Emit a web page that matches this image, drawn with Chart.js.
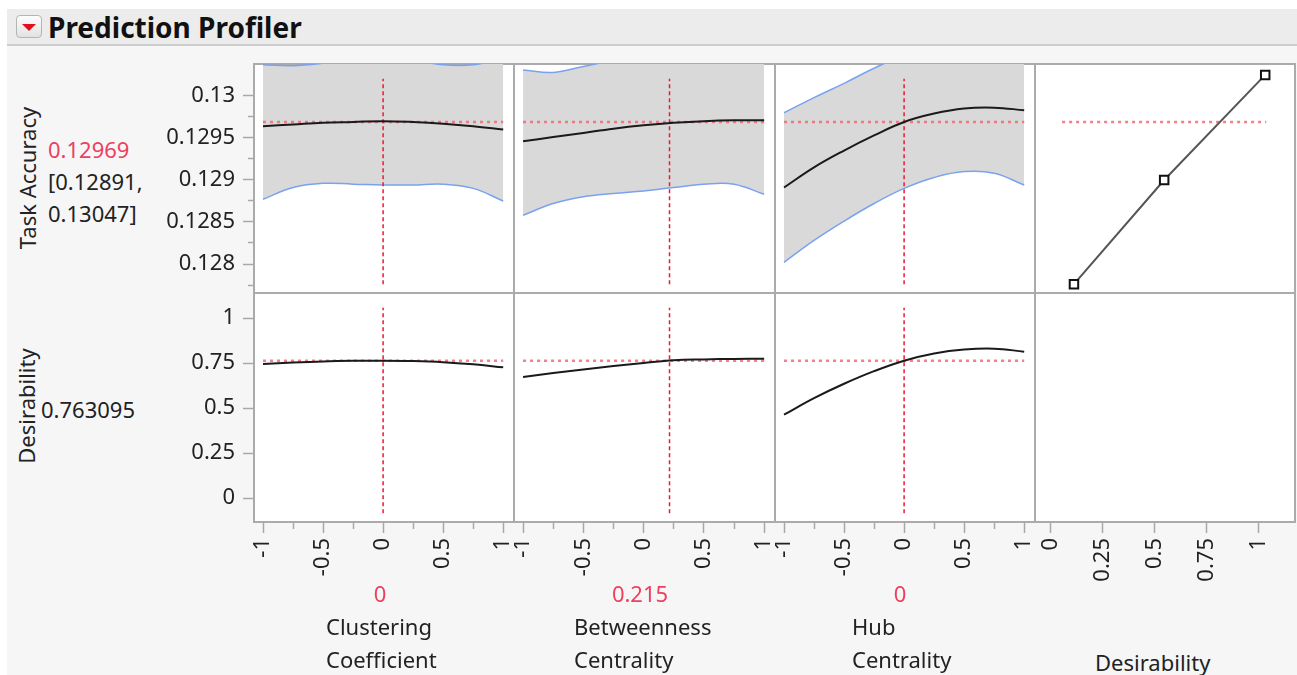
<!DOCTYPE html>
<html>
<head>
<meta charset="utf-8">
<title>Prediction Profiler</title>
<script src="https://cdn.jsdelivr.net/npm/chart.js@4.4.1/dist/chart.umd.min.js"></script>
<style>
  html, body { margin: 0; padding: 0; background: #fff; }
  body { width: 1297px; height: 675px; position: relative; overflow: hidden;
         font-family: "Noto Sans", "Open Sans", sans-serif; color: #222; }
  #report { position: absolute; left: 7px; top: 9px; width: 1290px; height: 666px; background: #f6f6f6; }
  #header { position: absolute; left: 7px; top: 9px; width: 1290px; height: 35px;
            background: #ececec; border-bottom: 2px solid #cdcdcd; }
  #toggle { position: absolute; left: 16px; top: 15px; width: 24px; height: 21px;
            border: 1px solid #b5b5b5; border-radius: 4px; background: linear-gradient(#fdfdfd, #e2e2e2); }
  #toggle:after { content: ''; position: absolute; left: 5px; top: 8px;
                  border-left: 7px solid transparent; border-right: 7px solid transparent; border-top: 7px solid #e2101c; }
  #title { position: absolute; left: 48px; top: 9px; line-height: 36px; font-size: 28px; font-weight: bold; color: #111; }
  .panelbg { position: absolute; background: #fff; }
  .frame { position: absolute; box-sizing: border-box; border: 2px solid #ababab; }
  canvas { position: absolute; }
  .txt { position: absolute; font-size: 22px; line-height: 32px; white-space: nowrap; }
  .red { color: #ef3f5f; }
  .rot { transform: translate(-50%, -50%) rotate(-90deg); line-height: 28px; }
  .mid { transform: translateX(-50%); }
</style>
</head>
<body>
<div id="report"></div>
<div id="header"></div>
<div id="toggle"></div>
<div id="title">Prediction Profiler</div>

<script>
// factor settings where the profile curves are evaluated
const factorLevels = [-1, -0.75, -0.5, -0.25, 0, 0.25, 0.5, 0.75, 1];
const factorNames = ['Clustering Coefficient', 'Betweenness Centrality', 'Hub Centrality'];
const currentSettings = [0, 0.215, 0];

// Task Accuracy profiles with confidence bands
const clusterAccuracy = [0.12964, 0.12966, 0.12968, 0.12969, 0.12970, 0.12969, 0.12967, 0.12964, 0.12960];
const clusterLower    = [0.12877, 0.12891, 0.12896, 0.12895, 0.12894, 0.12894, 0.12895, 0.12890, 0.12875];
const clusterUpper    = [0.13037, 0.13036, 0.13039, 0.13044, 0.13047, 0.13043, 0.13037, 0.13037, 0.13045];

const betweenAccuracy = [0.12946, 0.12951, 0.12956, 0.12961, 0.12965, 0.12968, 0.12970, 0.12971, 0.12971];
const betweenLower    = [0.12858, 0.12872, 0.12880, 0.12884, 0.12887, 0.12891, 0.12895, 0.12895, 0.12883];
const betweenUpper    = [0.13031, 0.13028, 0.13035, 0.13042, 0.13046, 0.13048, 0.13047, 0.13049, 0.13061];

const hubAccuracy = [0.12891, 0.12915, 0.12935, 0.12953, 0.12969, 0.12979, 0.12985, 0.12986, 0.12983];
const hubLower    = [0.12802, 0.12828, 0.12851, 0.12872, 0.12890, 0.12903, 0.12910, 0.12908, 0.12894];
const hubUpper    = [0.12980, 0.12998, 0.13015, 0.13033, 0.13048, 0.13057, 0.13061, 0.13064, 0.13072];

// Desirability profiles
const clusterDesirability = [0.745, 0.753, 0.759, 0.762, 0.763, 0.761, 0.755, 0.743, 0.726];
const betweenDesirability = [0.673, 0.694, 0.714, 0.733, 0.750, 0.765, 0.770, 0.773, 0.774];
const hubDesirability     = [0.463, 0.555, 0.635, 0.705, 0.763, 0.803, 0.825, 0.830, 0.813];

// current prediction
const currentAccuracy = 0.12969;
const accuracyInterval = [0.12891, 0.13047];
const currentDesirability = 0.763095;

// desirability function (desirability -> task accuracy)
const desirFnX = [0.112, 0.545, 1.03];
const desirFnY = [0.12776, 0.129, 0.13025];
const desirCursorSpan = [0.055, 1.035];

// axes
const accuracyRange = [0.127655, 0.13038];
const accuracyMajor = [0.128, 0.1285, 0.129, 0.1295, 0.13];
const accuracyLabels = ['0.128', '0.1285', '0.129', '0.1295', '0.13'];
const accuracyMinor = [0.12775, 0.12825, 0.12875, 0.12925, 0.12975, 0.13025];

const desirRange = [-0.133, 1.139];
const desirMajor = [0, 0.25, 0.5, 0.75, 1];
const desirLabels = ['0', '0.25', '0.5', '0.75', '1'];

const factorRange = [-1.075, 1.09];
const factorMajor = [-1, -0.5, 0, 0.5, 1];
const factorLabels = ['-1', '-0.5', '0', '0.5', '1'];
const factorMinor = [-0.75, -0.25, 0.25, 0.75];

const desirAxisRange = [-0.075, 1.173];

// layout of the grid of panels
const colLeft = [254, 514, 775, 1035, 1295];
const rowTop = [64, 293, 522];
const yAxisWidth = 94, xAxisHeight = 70;

Chart.defaults.font.family = '"Noto Sans", "Open Sans", sans-serif';
Chart.defaults.font.size = 22;
Chart.defaults.color = '#222';
Chart.defaults.animation = false;
Chart.defaults.events = [];
Chart.defaults.plugins.legend.display = false;
Chart.defaults.plugins.tooltip.enabled = false;

function addDiv(cls, l, t, w, h, html) {
    var d = document.createElement('div');
    d.className = cls;
    d.style.left = l + 'px';
    d.style.top = t + 'px';
    if (w != null) d.style.width = w + 'px';
    if (h != null) d.style.height = h + 'px';
    if (html != null) d.innerHTML = html;
    document.body.appendChild(d);
    return d;
}

// white plot area then panel frames, charts go on top
addDiv('panelbg', colLeft[0], rowTop[0], colLeft[4] - colLeft[0], rowTop[2] - rowTop[0]);
for (var r = 0; r < 2; r++) {
    for (var c = 0; c < 4; c++) {
        addDiv('frame', colLeft[c] - 1, rowTop[r] - 1, colLeft[c + 1] - colLeft[c] + 2, rowTop[r + 1] - rowTop[r] + 2);
    }
}

function pts(xs, ys) {
    return xs.map(function(x, i) { return { x: x, y: ys[i] }; });
}

function curve(ys) {
    return { data: pts(factorLevels, ys), borderColor: '#1a1a1a', borderWidth: 2, pointRadius: 0,
             tension: 0.4, fill: false, clip: 0, xAxisID: 'x', yAxisID: 'y' };
}

function bandUpper(ys) {
    return { data: pts(factorLevels, ys), borderColor: '#7aa2ee', borderWidth: 1.5, pointRadius: 0,
             tension: 0.4, fill: false, clip: 0, xAxisID: 'x', yAxisID: 'y' };
}

function bandLower(ys) {
    return { data: pts(factorLevels, ys), borderColor: '#7aa2ee', borderWidth: 1.5, pointRadius: 0,
             tension: 0.4, fill: '-1', backgroundColor: '#d9d9d9', clip: 0, xAxisID: 'x', yAxisID: 'y' };
}

function crossV(xv, range) {
    var span = range[1] - range[0];
    return { data: [{ x: xv, y: range[0] + 0.038 * span }, { x: xv, y: range[0] + 0.936 * span }],
             borderColor: '#e81b34', borderWidth: 1.5, borderDash: [4, 3], pointRadius: 0,
             fill: false, xAxisID: 'x', yAxisID: 'y' };
}

function crossH(yv, x0, x1) {
    return { data: [{ x: x0, y: yv }, { x: x1, y: yv }],
             borderColor: 'rgba(240, 95, 115, 0.8)', borderWidth: 2.5, borderDash: [3, 4], pointRadius: 0,
             fill: false, xAxisID: 'x', yAxisID: 'y' };
}

function axis(position, spec, show, isMajor) {
    var horizontal = position === 'bottom';
    var values = isMajor ? spec.major : (spec.minor || []);
    var size = isMajor ? (horizontal ? xAxisHeight : yAxisWidth) : 0;
    return {
        type: 'linear', position: position, axis: horizontal ? 'x' : 'y',
        min: spec.range[0], max: spec.range[1], bounds: 'data',
        display: show && values.length > 0,
        weight: isMajor ? 1 : 0,
        border: { display: false },
        grid: { drawOnChartArea: false, drawTicks: true,
                tickLength: isMajor ? 11 : (horizontal ? 7 : 6),
                tickColor: '#a8a8a8', tickWidth: 1.5 },
        afterBuildTicks: function(s) { s.ticks = values.map(function(v) { return { value: v }; }); },
        ticks: {
            display: isMajor, autoSkip: false, padding: horizontal ? 5 : 8,
            minRotation: horizontal ? 90 : 0, maxRotation: horizontal ? 90 : 0,
            callback: function(v, i) { return spec.labels ? spec.labels[i] : ''; }
        },
        afterFit: function(s) {
            if (!s.options.display) return;
            if (horizontal) s.height = size; else s.width = size;
            s.paddingLeft = 0; s.paddingRight = 0; s.paddingTop = 0; s.paddingBottom = 0;
        }
    };
}

function addChart(col, row, xSpec, ySpec, datasets) {
    var showY = col === 0, showX = row === 1;
    var left = colLeft[col] - (showY ? yAxisWidth : 0);
    var top = rowTop[row];
    var width = colLeft[col + 1] - colLeft[col] + (showY ? yAxisWidth : 0);
    var height = rowTop[row + 1] - rowTop[row] + (showX ? xAxisHeight : 0);
    var canvas = document.createElement('canvas');
    canvas.width = width;
    canvas.height = height;
    canvas.style.cssText = 'left:' + left + 'px;top:' + top + 'px;width:' + width + 'px;height:' + height + 'px';
    document.body.appendChild(canvas);
    return new Chart(canvas, {
        type: 'line',
        data: { datasets: datasets },
        options: {
            responsive: false,
            devicePixelRatio: 1,
            layout: { padding: 0, autoPadding: false },
            scales: {
                x: axis('bottom', xSpec, showX, true),
                xMinor: axis('bottom', xSpec, showX, false),
                y: axis('left', ySpec, showY, true),
                yMinor: axis('left', ySpec, showY, false)
            }
        }
    });
}

var factorSpec = { range: factorRange, major: factorMajor, labels: factorLabels, minor: factorMinor };
var desirXSpec = { range: desirAxisRange, major: desirMajor, labels: desirLabels, minor: [] };
var accSpec = { range: accuracyRange, major: accuracyMajor, labels: accuracyLabels, minor: accuracyMinor };
var desSpec = { range: desirRange, major: desirMajor, labels: desirLabels, minor: [] };

var accuracyProfiles = [
    [clusterAccuracy, clusterLower, clusterUpper],
    [betweenAccuracy, betweenLower, betweenUpper],
    [hubAccuracy, hubLower, hubUpper]
];
var desirProfiles = [clusterDesirability, betweenDesirability, hubDesirability];
var lastLevel = factorLevels[factorLevels.length - 1];

for (var i = 0; i < 3; i++) {
    var p = accuracyProfiles[i];
    addChart(i, 0, factorSpec, accSpec, [
        curve(p[0]),
        crossV(currentSettings[i], accuracyRange),
        crossH(currentAccuracy, factorLevels[0], lastLevel),
        bandUpper(p[2]),
        bandLower(p[1])
    ]);
    addChart(i, 1, factorSpec, desSpec, [
        curve(desirProfiles[i]),
        crossV(currentSettings[i], desirRange),
        crossH(currentDesirability, factorLevels[0], lastLevel)
    ]);
}

// desirability function panel and the empty corner panel
addChart(3, 0, desirXSpec, accSpec, [
    { data: pts(desirFnX, desirFnY), borderColor: '#555', borderWidth: 2, tension: 0,
      pointStyle: 'rect', pointRadius: 6, pointBorderWidth: 2, pointBorderColor: '#111',
      pointBackgroundColor: '#fff', fill: false, xAxisID: 'x', yAxisID: 'y' },
    crossH(currentAccuracy, desirCursorSpan[0], desirCursorSpan[1])
]);
addChart(3, 1, desirXSpec, desSpec, []);

// text around the grid
addDiv('txt rot', 27, 178, null, null, 'Task Accuracy');
addDiv('txt', 48, 133, null, null,
    '<span class="red">' + currentAccuracy.toFixed(5) + '</span><br>[' +
    accuracyInterval[0].toFixed(5) + ',<br>' + accuracyInterval[1].toFixed(5) + ']');
addDiv('txt rot', 26, 406, null, null, 'Desirability');
addDiv('txt', 41, 393, null, null, String(currentDesirability));

var valueCenters = [380, 640, 900];
var nameLeft = [326, 574, 852, 1095];
for (var k = 0; k < 3; k++) {
    addDiv('txt red mid', valueCenters[k], 577, null, null, String(currentSettings[k]));
    var nm = addDiv('txt', nameLeft[k], 610, null, null, factorNames[k].split(' ').join('<br>'));
    nm.style.lineHeight = '33px';
}
addDiv('txt', nameLeft[3], 646, null, null, 'Desirability');
</script>
</body>
</html>
